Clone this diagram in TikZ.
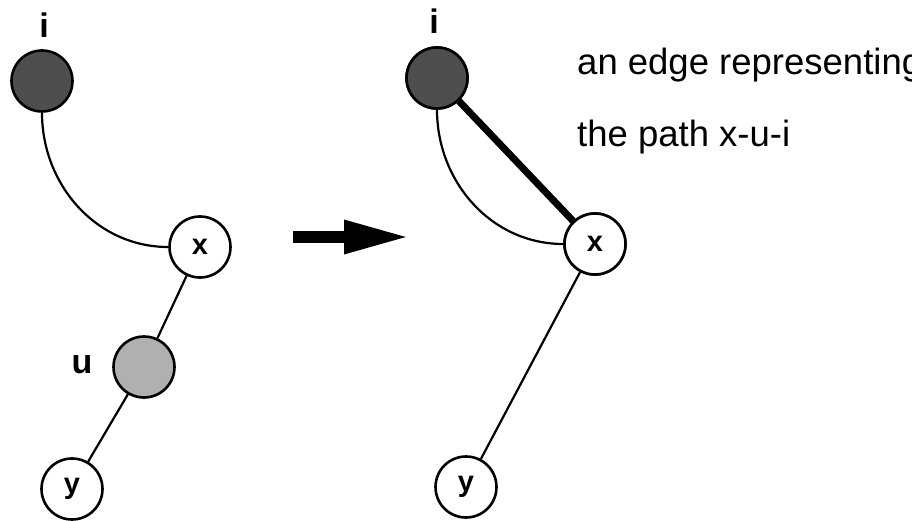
\documentclass[tikz,border=0pt]{standalone}
\usepackage{fontspec}
\setmainfont{Liberation Sans}
\usetikzlibrary{arrows.meta,positioning}
\definecolor{ink}{HTML}{000000}
\definecolor{darkvert}{HTML}{4E4E4E}
\definecolor{lightvert}{HTML}{B0B0B0}
\tikzset{
  vert/.style={circle,draw=ink,line width=2.6pt,minimum size=61pt,inner sep=0pt,fill=white,
    font=\fontsize{29}{31}\selectfont\bfseries},
  rootvert/.style={vert,fill=darkvert},
  midvert/.style={vert,fill=lightvert},
  vlab/.style={font=\fontsize{34}{36}\selectfont\bfseries,text=ink,inner sep=0pt},
  edge/.style={line width=2.2pt,draw=ink},
  fatedge/.style={line width=7pt,draw=ink},
  bigarrow/.style={-{Triangle[length=66pt,width=31pt]},line width=12pt,draw=ink},
  note/.style={font=\fontsize{36.5}{39}\selectfont,text=ink,inner sep=0pt}
}

\begin{document}
\begin{tikzpicture}[x=1pt,y=1pt]
    \clip (0,0) rectangle (912,520);

    % before
    \node[rootvert] (i1) at (42,439) {};
    \node[vert] (x1) at (200,273) {x};
    \node[midvert] (u1) at (144,153) {};
    \node[vert] (y1) at (72,31) {y};
    \node[vlab,anchor=base] (li1) at (44,482) {i};
    \node[vlab] (lu1) at (82,155) {u};

    \draw[edge] (i1.south) to[out=-90,in=180] (x1.west);
    \draw[edge] (x1) -- (u1);
    \draw[edge] (u1) -- (y1);

    % the big arrow
    \coordinate (arrS) at (293,283);
    \coordinate (arrE) at (410,283);
    \draw[bigarrow] (arrS) -- (arrE);

    % after
    \node[rootvert] (i2) at (437,442) {};
    \node[vert] (x2) at (595,276) {x};
    \node[vert] (y2) at (466,33) {y};
    \node[vlab,anchor=base] (li2) at (434,486) {i};

    \draw[edge] (i2.south) to[out=-90,in=180] (x2.west);
    \draw[fatedge] (i2) -- (x2);
    \draw[edge] (x2) -- (y2);
    \node[rootvert] at (i2) {};
    \node[vert] at (x2) {x};

    \node[note,anchor=base west] (t1) at (577,445) {an edge representing};
    \node[note,anchor=base west] (t2) at (577,373) {the path x-u-i};
\end{tikzpicture}
\end{document}
